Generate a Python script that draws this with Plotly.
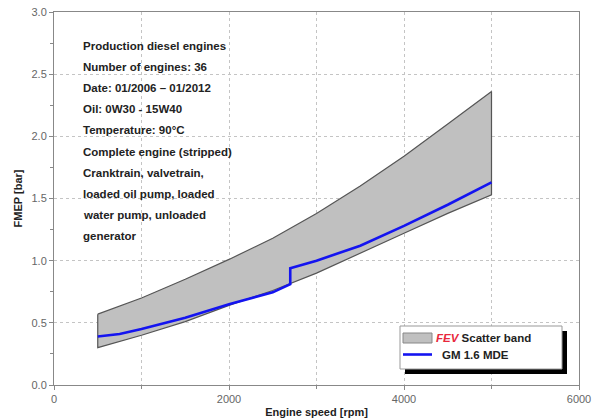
import plotly.graph_objects as go

speed = [500, 1000, 1500, 2000, 2500, 3000, 3500, 4000, 4500, 5000]
band_upper = [0.57, 0.70, 0.85, 1.01, 1.18, 1.38, 1.60, 1.84, 2.10, 2.36]
band_lower = [0.30, 0.40, 0.51, 0.64, 0.76, 0.90, 1.06, 1.22, 1.38, 1.53]

gm_speed = [500, 750, 1000, 1500, 2000, 2500, 2700, 2700, 3000, 3500, 4000, 4500, 5000]
gm_fmep = [0.39, 0.41, 0.45, 0.54, 0.65, 0.745, 0.81, 0.94, 1.00, 1.12, 1.28, 1.45, 1.63]

info_lines = [
    "Production diesel engines",
    "Number of engines: 36",
    "Date: 01/2006 \u2013 01/2012",
    "Oil: 0W30 - 15W40",
    "Temperature: 90\u00b0C",
    "Complete engine (stripped)",
    "Cranktrain, valvetrain,",
    "loaded oil pump, loaded",
    "water pump, unloaded",
    "generator",
]

FONT = "Liberation Sans, Arial, sans-serif"
BAND_FILL = "#c0c0c0"
BAND_LINE = "#555555"
GM_COLOR = "#1414f0"

fig = go.Figure()
band_x = speed + speed[::-1] + [speed[0]]
band_y = band_upper + band_lower[::-1] + [band_upper[0]]
fig.add_trace(go.Scatter(
    x=band_x, y=band_y, mode="lines", fill="toself",
    fillcolor=BAND_FILL, line=dict(color=BAND_LINE, width=1.2),
    name="FEV Scatter band", showlegend=False, hoverinfo="skip",
))
fig.add_trace(go.Scatter(
    x=gm_speed, y=gm_fmep, mode="lines",
    line=dict(color=GM_COLOR, width=2.6),
    name="GM 1.6 MDE", showlegend=False,
))

W, H = 592, 419
ml, mr, mt, mb = 54, 13, 12, 34
pw = W - ml - mr
ph = H - mt - mb


def px(x):
    return (x - ml) / pw


def py(y):
    return (H - mb - y) / ph


for i, t in enumerate(info_lines):
    ypix = 46 + i * 21.1
    fig.add_annotation(
        x=px(81), xref="paper", y=py(ypix), yref="paper",
        text="<b>" + t + "</b>", showarrow=False,
        xanchor="left", yanchor="middle",
        font=dict(family=FONT, size=11.5, color="#222222"),
    )

# manual legend box with drop shadow
lx0, ly0, lx1, ly1 = 400, 326, 562, 369
fig.add_shape(type="rect", xref="paper", yref="paper",
              x0=px(lx0 + 5), x1=px(lx1 + 5), y0=py(ly1 + 5), y1=py(ly0 + 5),
              fillcolor="black", line=dict(width=0), layer="above")
fig.add_shape(type="rect", xref="paper", yref="paper",
              x0=px(lx0), x1=px(lx1), y0=py(ly1), y1=py(ly0),
              fillcolor="white", line=dict(color="#999999", width=1), layer="above")
fig.add_shape(type="rect", xref="paper", yref="paper",
              x0=px(403), x1=px(432), y0=py(343), y1=py(333),
              fillcolor=BAND_FILL, line=dict(color="#888888", width=1), layer="above")
fig.add_shape(type="line", xref="paper", yref="paper",
              x0=px(403), x1=px(432), y0=py(354.5), y1=py(354.5),
              line=dict(color=GM_COLOR, width=2.6), layer="above")
fig.add_annotation(
    x=px(434), xref="paper", y=py(338), yref="paper",
    text="<span style='color:#e8283c'><b><i>FEV</i></b></span> <b>Scatter band</b>",
    showarrow=False, xanchor="left", yanchor="middle",
    font=dict(family=FONT, size=11.5, color="#222222"),
)
fig.add_annotation(
    x=px(440), xref="paper", y=py(355), yref="paper",
    text="<b>GM 1.6 MDE</b>",
    showarrow=False, xanchor="left", yanchor="middle",
    font=dict(family=FONT, size=11.5, color="#222222"),
)

fig.update_layout(
    width=W, height=H,
    margin=dict(l=ml, r=mr, t=mt, b=mb, autoexpand=False),
    paper_bgcolor="white", plot_bgcolor="white",
    font=dict(family=FONT, size=11, color="#555555"),
    showlegend=False,
    xaxis=dict(
        range=[0, 6000], dtick=2000, tick0=0, automargin=False,
        showgrid=True, gridcolor="#c4c4c4", griddash="dot", gridwidth=1,
        minor=dict(dtick=1000, showgrid=True, gridcolor="#c4c4c4", griddash="dot",
                   ticks="outside", ticklen=3, tickcolor="#888888"),
        ticks="outside", ticklen=4, tickcolor="#888888",
        showline=True, linecolor="#888888", linewidth=1, mirror=True,
        zeroline=False,
        title=dict(text="<b>Engine speed [rpm]</b>", standoff=4,
                   font=dict(family=FONT, size=11, color="#222222")),
        tickfont=dict(color="#666666", size=11),
    ),
    yaxis=dict(
        range=[0, 3], dtick=0.5, tick0=0, tickformat=".1f", automargin=False,
        showgrid=True, gridcolor="#c4c4c4", griddash="dot", gridwidth=1,
        minor=dict(dtick=0.25, showgrid=False, ticks="outside", ticklen=3,
                   tickcolor="#888888"),
        ticks="outside", ticklen=4, tickcolor="#888888",
        showline=True, linecolor="#888888", linewidth=1, mirror=True,
        zeroline=False,
        title=dict(text="<b>FMEP [bar]</b>", standoff=6,
                   font=dict(family=FONT, size=11, color="#222222")),
        tickfont=dict(color="#666666", size=11),
    ),
)

fig.write_html(
    "out.html",
    config={"displayModeBar": False},
    post_script="document.body.style.margin='0';document.body.style.overflow='hidden';",
)
